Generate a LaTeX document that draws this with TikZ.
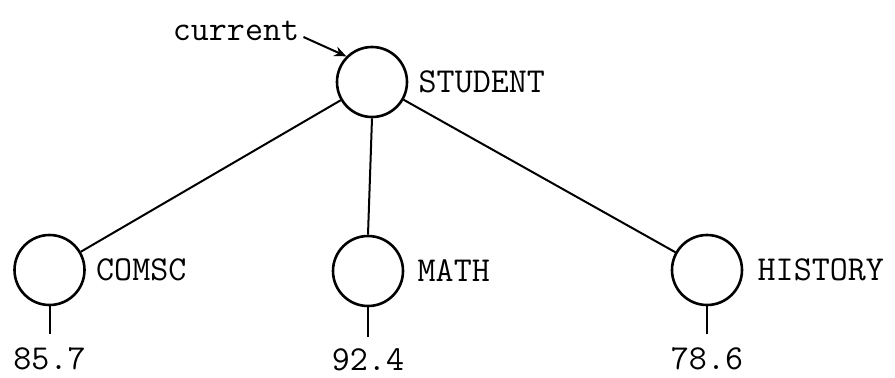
\documentclass[tikz,border=0pt]{standalone}
\usepackage{tikz}
\usetikzlibrary{arrows.meta,positioning,calc}

\begin{document}
\begin{tikzpicture}[
    x=0.5pt, y=0.5pt,
    rec/.style={circle, draw, line width=1.3pt, minimum size=35pt, inner sep=0pt},
    tag/.style={font=\ttfamily\fontsize{17.5}{20}\selectfont, inner sep=0pt},
    val/.style={font=\ttfamily\fontsize{17.5}{20}\selectfont, inner sep=0pt},
    edge/.style={line width=1pt},
    ptr/.style={-{Stealth[length=6pt,width=5pt]}, line width=1pt}
]
\useasboundingbox (0,0) rectangle (895,377);

% record nodes
\node[rec] (student) at (372,295) {};
\node[rec] (comsc)   at (49.5,107) {};
\node[rec] (math)    at (368,106) {};
\node[rec] (history) at (707,107) {};

% field names
\node[tag, right=5pt of student] (studentlbl) {STUDENT};
\node[tag, right=5pt of comsc]   (comsclbl)   {COMSC};
\node[tag, right=6.5pt of math]  (mathlbl)    {MATH};
\node[tag, right=7pt of history] (historylbl) {HISTORY};

% values
\node[val, below=20.5pt of comsc]   (comscval)   {85.7};
\node[val, below=20.5pt of math]    (mathval)    {92.4};
\node[val, below=20.5pt of history] (historyval) {78.6};

% pointer
\node[tag, anchor=south] (current) at (236,336) {current};
\draw[ptr] ($(current.south east)+(2pt,2pt)$) -- (student.135);

% tree edges
\draw[edge] (student) -- (comsc);
\draw[edge] (student.south) -- (math.north);
\draw[edge] (student) -- (history);

\draw[edge] (comsc.south)   -- ($(comsc.south)!0.68!(comscval.north)$);
\draw[edge] (math.south)    -- ($(math.south)!0.72!(mathval.north)$);
\draw[edge] (history.south) -- ($(history.south)!0.68!(historyval.north)$);
\end{tikzpicture}
\end{document}
